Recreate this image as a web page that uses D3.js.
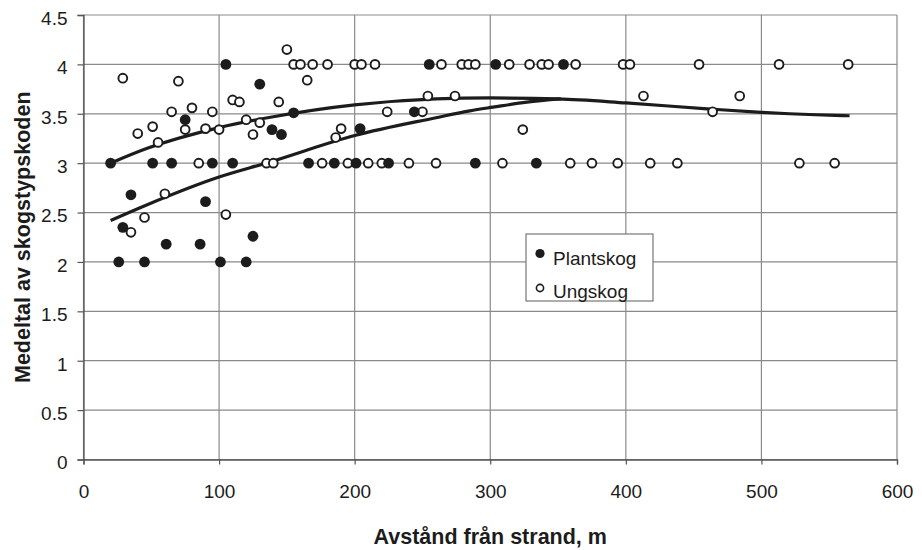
<!DOCTYPE html>
<html>
<head>
<meta charset="utf-8">
<script src="https://cdn.jsdelivr.net/npm/d3@7"></script>
<style>
  html, body { margin: 0; padding: 0; background: #fff; }
  svg { display: block; font-family: "Liberation Sans", Arial, Helvetica, sans-serif; }
</style>
</head>
<body>
<svg id="chart" width="922" height="550"></svg>
<script>
// Plantskog (filled markers): distance from shore (m) and mean forest-type code
const plantX = [20, 51, 65, 95, 110, 105, 130, 75, 139, 146, 35, 90, 29, 61, 86, 125, 26, 45, 101, 120,
                255, 155, 204, 244, 166, 185, 201, 225, 304, 354, 289, 334];
const plantY = [3.0, 3.0, 3.0, 3.0, 3.0, 4.0, 3.8, 3.44, 3.34, 3.29, 2.68, 2.61, 2.35, 2.18, 2.18, 2.26, 2.0, 2.0, 2.0, 2.0,
                4.0, 3.51, 3.35, 3.52, 3.0, 3.0, 3.0, 3.0, 4.0, 4.0, 3.0, 3.0];

// Ungskog (open markers)
const ungX = [29, 70, 110, 115, 144, 65, 80, 95, 40, 51, 55, 75, 90, 100, 120, 130, 125, 85, 135, 140,
              60, 45, 35, 105, 150, 155, 160, 169, 180, 200, 205, 215, 264, 279, 284, 289,
              165, 254, 274, 224, 250, 190, 186, 176, 195, 210, 220, 240, 260,
              314, 329, 338, 343, 363, 398, 403, 413, 324, 309, 359, 375, 394, 418,
              454, 513, 564, 484, 464, 438, 528, 554];
const ungY = [3.86, 3.83, 3.64, 3.62, 3.62, 3.52, 3.56, 3.52, 3.30, 3.37, 3.21, 3.34, 3.35, 3.34, 3.44, 3.41, 3.29, 3.0, 3.0, 3.0,
              2.69, 2.45, 2.30, 2.48, 4.15, 4.0, 4.0, 4.0, 4.0, 4.0, 4.0, 4.0, 4.0, 4.0, 4.0, 4.0,
              3.84, 3.68, 3.68, 3.52, 3.52, 3.35, 3.26, 3.0, 3.0, 3.0, 3.0, 3.0, 3.0,
              4.0, 4.0, 4.0, 4.0, 4.0, 4.0, 4.0, 3.68, 3.34, 3.0, 3.0, 3.0, 3.0, 3.0,
              4.0, 4.0, 4.0, 3.68, 3.52, 3.0, 3.0, 3.0];

// Fitted trend curves
const trendUngX = [20, 47, 100, 140, 200, 260, 300, 350, 400, 460, 500, 540, 565];
const trendUngY = [3.0, 3.15, 3.36, 3.47, 3.59, 3.65, 3.66, 3.65, 3.61, 3.55, 3.515, 3.49, 3.48];
const trendPlantX = [20, 47, 100, 137, 200, 260, 285, 302, 327, 352];
const trendPlantY = [2.42, 2.58, 2.86, 3.01, 3.28, 3.46, 3.53, 3.567, 3.618, 3.65];

// Axis ticks and labels
const xTicks = [0, 100, 200, 300, 400, 500, 600];
const yTicks = [0, 0.5, 1, 1.5, 2, 2.5, 3, 3.5, 4, 4.5];
const xTitle = "Avstånd från strand, m";
const yTitle = "Medeltal av skogstypskoden";
const legendLabels = ["Plantskog", "Ungskog"];

const svg = d3.select("#chart");
const x = d3.scaleLinear().domain([0, 600]).range([83.5, 897]);
const y = d3.scaleLinear().domain([0, 4.5]).range([459.5, 15]);

const gridColor = "#8a8a8a";
const ink = "#1c1c1c";

// Grid
const grid = svg.append("g");
grid.selectAll("line.h").data(yTicks).join("line")
  .attr("x1", x(0)).attr("x2", x(600))
  .attr("y1", d => y(d)).attr("y2", d => y(d))
  .attr("stroke", gridColor).attr("stroke-width", 1.2);
grid.selectAll("line.v").data(xTicks).join("line")
  .attr("y1", y(0)).attr("y2", y(4.5))
  .attr("x1", d => x(d)).attr("x2", d => x(d))
  .attr("stroke", gridColor).attr("stroke-width", 1.2);

// Axes
const yAxis = svg.append("g").attr("transform", `translate(${x(0)},0)`)
  .call(d3.axisLeft(y).tickValues(yTicks).tickSize(6).tickPadding(10)
    .tickFormat(d => String(d)));
const xAxis = svg.append("g").attr("transform", `translate(0,${y(0)})`)
  .call(d3.axisBottom(x).tickValues(xTicks).tickSize(5).tickPadding(20));
[yAxis, xAxis].forEach(g => {
  g.select(".domain").attr("stroke", "#555").attr("stroke-width", 1.3);
  g.selectAll(".tick line").attr("stroke", "#555").attr("stroke-width", 1.2);
  g.selectAll(".tick text").attr("fill", ink)
    .style("font-family", "'Liberation Sans', Arial, sans-serif").style("font-size", "19px");
});
yAxis.selectAll(".tick text").attr("dy", "0.68em").attr("y", -3.5);
xAxis.selectAll(".tick text").attr("dy", "0.71em");

// Axis titles
svg.append("text")
  .attr("x", x(300)).attr("y", 544)
  .attr("text-anchor", "middle").attr("fill", ink)
  .style("font-size", "21.5px").style("font-weight", "bold")
  .text(xTitle);
svg.append("text")
  .attr("transform", `translate(29.5, ${y(2.25)}) rotate(-90)`)
  .attr("text-anchor", "middle").attr("fill", ink)
  .style("font-size", "21.5px").style("font-weight", "bold")
  .text(yTitle);

// Trend curves
const line = d3.line().x(d => x(d[0])).y(d => y(d[1])).curve(d3.curveMonotoneX);
svg.append("path").datum(d3.zip(trendUngX, trendUngY))
  .attr("d", line).attr("fill", "none").attr("stroke", ink).attr("stroke-width", 3.2)
  .attr("stroke-linecap", "butt");
svg.append("path").datum(d3.zip(trendPlantX, trendPlantY))
  .attr("d", line).attr("fill", "none").attr("stroke", ink).attr("stroke-width", 3.2)
  .attr("stroke-linecap", "butt");

// Markers
svg.append("g").selectAll("circle").data(d3.zip(ungX, ungY)).join("circle")
  .attr("cx", d => x(d[0])).attr("cy", d => y(d[1])).attr("r", 4.4)
  .attr("fill", "#fff").attr("stroke", ink).attr("stroke-width", 1.9);
svg.append("g").selectAll("circle").data(d3.zip(plantX, plantY)).join("circle")
  .attr("cx", d => x(d[0])).attr("cy", d => y(d[1])).attr("r", 5.4)
  .attr("fill", ink);

// Legend
const lg = svg.append("g");
lg.append("rect").attr("x", 526).attr("y", 234).attr("width", 127).attr("height", 67)
  .attr("fill", "#fff").attr("stroke", "#777").attr("stroke-width", 1.2);
lg.append("circle").attr("cx", 540).attr("cy", 253.5).attr("r", 4.6).attr("fill", ink);
lg.append("circle").attr("cx", 540).attr("cy", 288).attr("r", 3.6)
  .attr("fill", "#fff").attr("stroke", ink).attr("stroke-width", 1.6);
lg.selectAll("text").data(legendLabels).join("text")
  .attr("x", 553).attr("y", (d, i) => 258 + i * 33)
  .attr("dy", "0.35em").attr("fill", ink)
  .style("font-size", "19px")
  .text(d => d);
</script>
</body>
</html>
